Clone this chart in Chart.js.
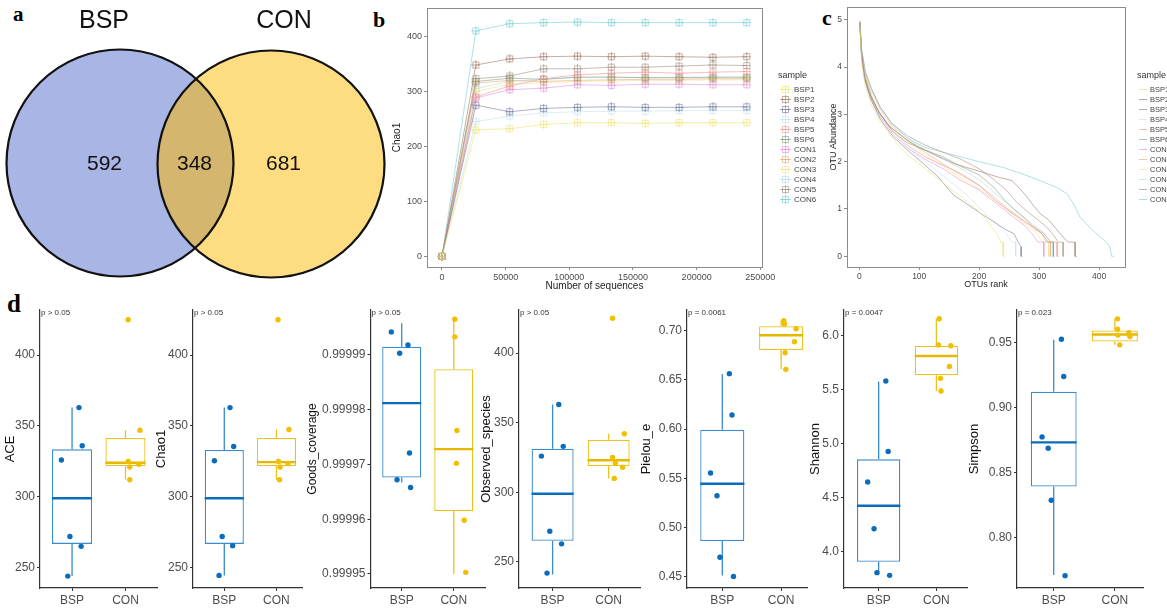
<!DOCTYPE html>
<html>
<head>
<meta charset="utf-8">
<script src="https://cdn.jsdelivr.net/npm/chart.js@4.4.1/dist/chart.umd.min.js"></script>
<style>
    html, body { margin: 0; padding: 0; background: #fff; }
    body { width: 1167px; height: 609px; position: relative; overflow: hidden; font-family: Arial, "Liberation Sans", sans-serif; }
    canvas { position: absolute; }
    .tag { position: absolute; font-family: "Liberation Serif", "Times New Roman", serif; font-weight: bold; color: #000; line-height: 1; }
</style>
</head>
<body>
<div class="tag" style="left:13px; top:4px; font-size:21px;">a</div>
<div class="tag" style="left:373px; top:9px; font-size:22px;">b</div>
<div class="tag" style="left:822px; top:7px; font-size:22px;">c</div>
<div class="tag" style="left:7px; top:291px; font-size:25px;">d</div>

<script>
// ---------- datos del panel a (Venn)
const vennSets = ["BSP", "CON"];
const vennCounts = [592, 348, 681]; // solo BSP, compartidos, solo CON

// ---------- panel b: curvas de rarefacción (Chao1)
const sampleNames = ["BSP1", "BSP2", "BSP3", "BSP4", "BSP5", "BSP6", "CON1", "CON2", "CON3", "CON4", "CON5", "CON6"];
const seqDepth = [0, 26600, 53200, 79800, 106400, 133000, 159600, 186200, 212800, 239400];
const depthTicks = [0, 50000, 100000, 150000, 200000, 250000];
const chaoTicksB = [0, 100, 200, 300, 400];

const rareBSP1 = [0, 230, 232, 240, 243, 243, 242, 243, 243, 243];
const rareBSP2 = [0, 348, 359, 363, 364, 363, 364, 363, 362, 363];
const rareBSP3 = [0, 275, 263, 269, 271, 272, 271, 271, 272, 272];
const rareBSP4 = [0, 245, 255, 261, 263, 264, 264, 265, 265, 265];
const rareBSP5 = [0, 290, 310, 323, 330, 333, 335, 333, 335, 336];
const rareBSP6 = [0, 318, 324, 322, 326, 326, 325, 325, 326, 326];
const rareCON1 = [0, 288, 303, 306, 312, 311, 313, 313, 312, 312];
const rareCON2 = [0, 315, 320, 318, 320, 321, 322, 322, 323, 323];
const rareCON3 = [0, 300, 313, 316, 318, 319, 320, 320, 321, 321];
const rareCON4 = [0, 305, 318, 322, 325, 325, 325, 325, 325, 325];
const rareCON5 = [0, 323, 328, 341, 341, 344, 344, 346, 348, 347];
const rareCON6 = [0, 410, 423, 425, 426, 425, 425, 425, 425, 425];

// ---------- panel c: rango-abundancia [rango, log10 abundancia]
const rankTicks = [0, 100, 200, 300, 400];
const abundTicks = [0, 1, 2, 3, 4, 5];
const rankBSP1 = [[1,4.9],[4,4.1],[10,3.6],[20,3.2],[35,2.85],[55,2.5],[80,2.15],[110,1.85],[140,1.55],[170,1.25],[195,1.0],[212,0.78],[222,0.6],[230,0.48],[236,0.3],[240,0.3],[240,0],[242,0]];
const rankBSP2 = [[1,4.95],[3,4.4],[8,3.8],[15,3.5],[30,3.1],[50,2.75],[75,2.5],[100,2.3],[130,2.12],[160,1.95],[200,1.8],[230,1.68],[255,1.6],[270,1.4],[280,1.25],[292,1.05],[302,0.9],[315,0.78],[324,0.65],[335,0.48],[348,0.3],[360,0.3],[360,0],[363,0]];
const rankBSP3 = [[1,4.9],[4,4.2],[10,3.7],[20,3.3],[35,2.9],[55,2.55],[80,2.25],[105,1.98],[130,1.7],[157,1.3],[180,1.1],[207,0.87],[228,0.7],[246,0.55],[258,0.48],[265,0.3],[270,0.2],[270,0],[272,0]];
const rankBSP4 = [[1,4.85],[4,4.2],[10,3.7],[20,3.3],[35,2.95],[55,2.6],[80,2.3],[110,2.0],[140,1.7],[170,1.4],[195,1.1],[215,0.85],[232,0.65],[245,0.48],[255,0.3],[261,0.3],[261,0],[263,0]];
const rankBSP5 = [[1,4.9],[4,4.2],[10,3.75],[20,3.35],[35,3.0],[55,2.65],[80,2.35],[110,2.1],[140,1.92],[170,1.75],[200,1.5],[225,1.2],[245,1.0],[262,0.85],[280,0.7],[295,0.6],[308,0.48],[320,0.3],[330,0.3],[330,0],[333,0]];
const rankBSP6 = [[1,4.95],[4,4.3],[10,3.8],[20,3.4],[35,3.0],[55,2.65],[80,2.4],[110,2.25],[140,2.1],[170,1.9],[200,1.72],[225,1.45],[245,1.15],[262,0.95],[278,0.78],[292,0.6],[305,0.48],[315,0.3],[324,0.3],[324,0],[326,0]];
const rankCON1 = [[1,4.9],[4,4.2],[10,3.7],[20,3.3],[35,2.95],[55,2.6],[80,2.3],[110,2.05],[140,1.85],[170,1.6],[200,1.4],[225,1.15],[245,0.95],[262,0.78],[276,0.65],[288,0.48],[298,0.3],[308,0.3],[308,0],[310,0]];
const rankCON2 = [[1,4.95],[4,4.25],[10,3.75],[20,3.35],[35,3.0],[55,2.7],[80,2.45],[110,2.2],[140,1.95],[170,1.72],[200,1.5],[225,1.25],[248,1.0],[265,0.85],[280,0.7],[295,0.55],[305,0.48],[312,0.3],[319,0.3],[319,0],[321,0]];
const rankCON3 = [[1,4.9],[4,4.3],[10,3.85],[20,3.5],[35,3.1],[55,2.75],[80,2.45],[110,2.15],[140,1.9],[170,1.65],[200,1.42],[225,1.2],[248,0.98],[265,0.8],[280,0.65],[295,0.5],[305,0.3],[316,0.3],[316,0],[318,0]];
const rankCON4 = [[1,4.95],[4,4.3],[10,3.85],[20,3.5],[35,3.1],[55,2.75],[80,2.5],[110,2.25],[140,2.05],[170,1.85],[200,1.62],[225,1.35],[248,1.1],[268,0.9],[285,0.72],[300,0.58],[310,0.48],[318,0.3],[323,0.3],[323,0],[325,0]];
const rankCON5 = [[1,4.95],[4,4.35],[10,3.9],[20,3.55],[35,3.15],[55,2.8],[80,2.55],[110,2.35],[140,2.2],[170,2.05],[200,1.85],[225,1.62],[245,1.4],[262,1.15],[280,0.95],[295,0.8],[310,0.65],[322,0.48],[332,0.3],[340,0.3],[340,0],[342,0]];
const rankCON6 = [[1,5.0],[4,4.4],[10,3.9],[20,3.55],[35,3.15],[55,2.8],[80,2.5],[110,2.3],[140,2.2],[170,2.1],[200,2.0],[240,1.88],[270,1.75],[302,1.6],[330,1.45],[346,1.33],[358,1.1],[368,0.83],[385,0.6],[402,0.41],[412,0.3],[418,0.2],[421,0],[425,0]];

// ---------- panel d: diversidad alfa
const groups = ["BSP", "CON"];
const metricTitles = ["ACE", "Chao1", "Goods_coverage", "Observed_species", "Pielou_e", "Shannon", "Simpson"];
const pLabels = ["p > 0.05", "p > 0.05", "p > 0.05", "p > 0.05", "p = 0.0061", "p = 0.0047", "p = 0.023"];

const aceBSP = [363, 336, 326, 272, 265, 244];
const aceCON = [425, 347, 325, 323, 321, 312];
const aceBox = [[244, 266.75, 299, 333.5, 363], [312, 321.5, 324, 341.5, 347]];
const aceTicks = [250, 300, 350, 400];

const chaoBSP = [363, 335.5, 325.5, 272, 265.5, 244.5];
const chaoCON = [425, 347.5, 325, 323.5, 321, 312];
const chaoBox = [[244.5, 266.75, 299, 333, 363], [312, 321.5, 324.5, 341.5, 347.5]];
const chaoTicks = [250, 300, 350, 400];

const goodsBSP = [0.9999942, 0.9999918, 0.9999903, 0.9999721, 0.9999672, 0.9999658];
const goodsCON = [0.9999965, 0.9999933, 0.9999762, 0.9999702, 0.9999598, 0.9999503];
const goodsBox = [[0.9999667, 0.9999676, 0.9999812, 0.9999915, 0.9999958], [0.99995, 0.9999615, 0.9999728, 0.9999874, 0.9999965]];
const goodsTicks = [0.99995, 0.99996, 0.99997, 0.99998, 0.99999];

const obsBSP = [363, 333, 326, 272, 263, 242];
const obsCON = [425, 342, 325, 321, 318, 310];
const obsBox = [[241, 265.25, 299, 331.25, 363], [310, 318.75, 323, 337.75, 342]];
const obsTicks = [250, 300, 350, 400];

const pielouBSP = [0.6563, 0.6143, 0.5553, 0.5323, 0.4697, 0.4503];
const pielouCON = [0.7102, 0.7068, 0.702, 0.6888, 0.6776, 0.6607];
const pielouBox = [[0.4513, 0.4862, 0.5445, 0.5994, 0.656], [0.6607, 0.6804, 0.6954, 0.7045, 0.7102]];
const pielouTicks = [0.45, 0.50, 0.55, 0.60, 0.65, 0.70];

const shannonBSP = [5.58, 4.929, 4.645, 4.213, 3.806, 3.781];
const shannonCON = [6.157, 5.914, 5.907, 5.716, 5.605, 5.488];
const shannonBox = [[3.79, 3.907, 4.426, 4.855, 5.575], [5.488, 5.633, 5.812, 5.907, 6.157]];
const shannonTicks = [4.0, 4.5, 5.0, 5.5, 6.0];

const simpsonBSP = [0.9523, 0.9236, 0.8772, 0.8685, 0.8285, 0.7705];
const simpsonCON = [0.968, 0.96, 0.9574, 0.9544, 0.9555, 0.948];
const simpsonBox = [[0.771, 0.839, 0.873, 0.912, 0.952], [0.948, 0.9505, 0.956, 0.959, 0.968]];
const simpsonTicks = [0.80, 0.85, 0.90, 0.95];

// desplazamiento horizontal (jitter) de los puntos, en unidades de categoría
const jitterACE = [[0.13, 0.19, -0.2, -0.04, 0.17, -0.08], [0.05, 0.27, 0.05, 0.25, 0.08, 0.08]];
const jitterChao = [[0.11, 0.18, -0.19, -0.04, 0.16, -0.1], [0.03, 0.24, 0.04, 0.22, 0.07, 0.06]];
const jitterGoods = [[-0.2, 0.12, -0.04, 0.15, -0.09, 0.17], [0.02, 0.02, 0.06, 0.05, 0.2, 0.23]];
const jitterObs = [[0.11, 0.19, -0.2, -0.05, 0.16, -0.1], [0.07, 0.28, 0.07, 0.12, 0.25, 0.1]];
const jitterPielou = [[0.12, 0.165, -0.2, -0.09, -0.04, 0.19], [0.045, 0.057, 0.255, 0.227, 0.068, 0.08]];
const jitterShannon = [[0.124, 0.165, -0.19, -0.08, -0.03, 0.19], [0.05, 0.035, 0.25, 0.225, 0.07, 0.08]];
const jitterSimpson = [[0.126, 0.164, -0.19, -0.09, -0.04, 0.186], [0.044, 0.044, 0.23, 0.246, 0.05, 0.08]];

// ---------- estilos
const FONT = 'Arial, "Liberation Sans", sans-serif';
Chart.defaults.font.family = FONT;

const sampleRGB = [
    [236, 228, 110], [160, 122, 104], [120, 124, 160], [196, 226, 238],
    [238, 150, 146], [138, 158, 132], [226, 146, 222], [230, 172, 116],
    [244, 224, 140], [180, 218, 236], [164, 144, 132], [118, 206, 210]
];
const rgba = (c, a) => `rgba(${c[0]}, ${c[1]}, ${c[2]}, ${a})`;
const sampleColors = sampleRGB.map(c => rgba(c, 0.6));
const rankColors = sampleRGB.map(c => rgba(c, 0.65));
const boxLine = ["#3a8bcf", "#ecc21c"];
const medianLine = ["#0a6cba", "#e6b800"];
const dotColor = ["#0a6cba", "#efbf00"];

function addCanvas(left, top, w, h) {
    const c = document.createElement("canvas");
    c.width = w;
    c.height = h;
    c.style.left = left + "px";
    c.style.top = top + "px";
    c.style.width = w + "px";
    c.style.height = h + "px";
    document.body.appendChild(c);
    return c;
}

const baseOptions = () => ({
    responsive: false,
    animation: false,
    devicePixelRatio: 1,
    events: [],
    plugins: { legend: { display: false }, tooltip: { enabled: false } }
});

// ---------- a: Venn
const vennPlugin = {
    id: "venn",
    afterDraw(chart) {
        const ctx = chart.ctx;
        const xs = chart.scales.x, ys = chart.scales.y;
        const r = xs.getPixelForValue(113.5) - xs.getPixelForValue(0);
        const A = { x: xs.getPixelForValue(120), y: ys.getPixelForValue(163) };
        const B = { x: xs.getPixelForValue(271), y: ys.getPixelForValue(164) };
        const circle = c => { ctx.beginPath(); ctx.arc(c.x, c.y, r, 0, Math.PI * 2); };

        ctx.save();
        circle(A); ctx.fillStyle = "#a8b5e5"; ctx.fill();
        circle(B); ctx.fillStyle = "#fedc82"; ctx.fill();
        ctx.save();
        circle(A); ctx.clip();
        circle(B); ctx.fillStyle = "#d4b66f"; ctx.fill();
        ctx.restore();
        ctx.lineWidth = 2.2;
        ctx.strokeStyle = "#111";
        circle(A); ctx.stroke();
        circle(B); ctx.stroke();

        ctx.fillStyle = "#111";
        ctx.textAlign = "center";
        ctx.textBaseline = "alphabetic";
        ctx.font = "25px " + FONT;
        ctx.fillText(vennSets[0], xs.getPixelForValue(104), ys.getPixelForValue(28));
        ctx.fillText(vennSets[1], xs.getPixelForValue(284), ys.getPixelForValue(28));
        ctx.font = "21px " + FONT;
        const cx = [104.5, 194.5, 283.5];
        vennCounts.forEach((n, i) => ctx.fillText(String(n), xs.getPixelForValue(cx[i]), ys.getPixelForValue(170)));
        ctx.restore();
    }
};

new Chart(addCanvas(0, 0, 392, 290), {
    type: "scatter",
    data: { datasets: [] },
    options: Object.assign(baseOptions(), {
        layout: { padding: 0 },
        scales: {
            x: { type: "linear", min: 0, max: 392, display: false },
            y: { type: "linear", min: 0, max: 290, reverse: true, display: false }
        }
    }),
    plugins: [vennPlugin]
});

// marco gris alrededor del área de trazado
const framePlugin = color => ({
    id: "frame",
    beforeDatasetsDraw(chart) {
        const a = chart.chartArea, ctx = chart.ctx;
        ctx.save();
        ctx.strokeStyle = color;
        ctx.lineWidth = 1;
        ctx.strokeRect(Math.round(a.left) + 0.5, Math.round(a.top) + 0.5, Math.round(a.right - a.left), Math.round(a.bottom - a.top));
        ctx.restore();
    }
});

function markerFor(color) {
    const c = document.createElement("canvas");
    c.width = 9; c.height = 9;
    const g = c.getContext("2d");
    g.strokeStyle = color;
    g.lineWidth = 1;
    g.strokeRect(1.5, 1.5, 6, 6);
    g.beginPath();
    g.moveTo(4.5, 0); g.lineTo(4.5, 9);
    g.moveTo(0, 4.5); g.lineTo(9, 4.5);
    g.stroke();
    return c;
}
const markers = sampleColors.map(markerFor);

function legendPlugin(originX, titleX, lineX0, lineX1, textX, withMarker, fontSize) {
    return {
        id: "sampleLegend",
        afterDraw(chart) {
            const ctx = chart.ctx;
            ctx.save();
            ctx.textBaseline = "middle";
            ctx.textAlign = "left";
            ctx.fillStyle = "#333";
            ctx.font = "9px " + FONT;
            ctx.fillText("sample", titleX - originX, 76);
            ctx.font = fontSize + "px " + FONT;
            chart.data.datasets.forEach((ds, i) => {
                const y = 89.5 + i * 10;
                ctx.strokeStyle = ds.borderColor;
                ctx.lineWidth = 1;
                ctx.beginPath();
                ctx.moveTo(lineX0 - originX, y);
                ctx.lineTo(lineX1 - originX, y);
                ctx.stroke();
                if (withMarker) ctx.drawImage(markers[i], (lineX0 + lineX1) / 2 - originX - 4.5, y - 4.5);
                ctx.fillStyle = "#444";
                ctx.fillText(ds.label, textX - originX, y);
            });
            ctx.restore();
        }
    };
}

function axisStyle(ticks, fmt, fontSize) {
    return {
        afterBuildTicks: s => { s.ticks = ticks.map(v => ({ value: v })); },
        ticks: { callback: fmt, font: { size: fontSize }, color: "#4d4d4d", padding: 2, maxRotation: 0, autoSkip: false },
        grid: { display: true, drawOnChartArea: false, drawTicks: true, tickLength: 3, color: "#8c8c8c", offset: false },
        border: { display: false }
    };
}

// ---------- b: rarefacción
const rareSeries = [rareBSP1, rareBSP2, rareBSP3, rareBSP4, rareBSP5, rareBSP6, rareCON1, rareCON2, rareCON3, rareCON4, rareCON5, rareCON6];
const bLeft = 385;
new Chart(addCanvas(bLeft, 0, 445, 300), {
    type: "scatter",
    data: {
        datasets: sampleNames.map((name, i) => ({
            label: name,
            data: seqDepth.map((x, j) => ({ x: x, y: rareSeries[i][j] })),
            showLine: true,
            borderColor: sampleColors[i],
            backgroundColor: sampleColors[i],
            borderWidth: 1,
            pointStyle: markers[i],
            pointRadius: 4
        }))
    },
    options: Object.assign(baseOptions(), {
        layout: { padding: { top: 8, right: 68, left: 0, bottom: 0 } },
        scales: {
            x: Object.assign(axisStyle(depthTicks, v => String(v), 9), {
                type: "linear", min: -11780, max: 251335,
                afterFit: s => { s.height = 33; },
                title: { display: true, text: "Number of sequences", font: { size: 10 }, color: "#222", padding: { top: 0, bottom: 8 } }
            }),
            y: Object.assign(axisStyle(chaoTicksB, v => String(v), 9), {
                type: "linear", min: -19.3, max: 451.6,
                afterFit: s => { s.width = 42; },
                title: { display: true, text: "Chao1", font: { size: 10 }, color: "#222", padding: { top: 6, bottom: 0 } }
            })
        }
    }),
    plugins: [framePlugin("#8c8c8c"), legendPlugin(bLeft, 778, 780, 791, 794, true, 8)]
});

// ---------- c: rango-abundancia
const rankSeries = [rankBSP1, rankBSP2, rankBSP3, rankBSP4, rankBSP5, rankBSP6, rankCON1, rankCON2, rankCON3, rankCON4, rankCON5, rankCON6];
const cLeft = 820;
new Chart(addCanvas(cLeft, 0, 347, 300), {
    type: "scatter",
    data: {
        datasets: sampleNames.map((name, i) => ({
            label: name,
            data: rankSeries[i].map(p => ({ x: p[0], y: p[1] })),
            showLine: true,
            borderColor: rankColors[i],
            borderWidth: 0.9,
            pointRadius: 0
        }))
    },
    options: Object.assign(baseOptions(), {
        layout: { padding: { top: 7, right: 42, left: 0, bottom: 0 } },
        scales: {
            x: Object.assign(axisStyle(rankTicks, v => String(v), 8.5), {
                type: "linear", min: -20.5, max: 443.3,
                afterFit: s => { s.height = 33; },
                title: { display: true, text: "OTUs rank", font: { size: 9 }, color: "#222", padding: { top: 0, bottom: 10 } }
            }),
            y: Object.assign(axisStyle(abundTicks, v => String(v), 8.5), {
                type: "linear", min: -0.227, max: 5.27,
                afterFit: s => { s.width = 27; },
                title: { display: true, text: "OTU Abundance", font: { size: 9 }, color: "#222", padding: { top: 8, bottom: 0 } }
            })
        }
    }),
    plugins: [framePlugin("#8c8c8c"), legendPlugin(cLeft, 1137, 1139, 1147, 1150, false, 7.5)]
});

// ---------- d: diagramas de caja
const boxPanels = [
    { bsp: aceBSP, con: aceCON, box: aceBox, ticks: aceTicks, jit: jitterACE, yMin: 235.6, yMax: 431.9, fmt: v => String(v) },
    { bsp: chaoBSP, con: chaoCON, box: chaoBox, ticks: chaoTicks, jit: jitterChao, yMin: 235.6, yMax: 431.9, fmt: v => String(v) },
    { bsp: goodsBSP, con: goodsCON, box: goodsBox, ticks: goodsTicks, jit: jitterGoods, yMin: 0.99994744, yMax: 0.9999982, fmt: v => v.toFixed(5) },
    { bsp: obsBSP, con: obsCON, box: obsBox, ticks: obsTicks, jit: jitterObs, yMin: 231.3, yMax: 430.9, fmt: v => String(v) },
    { bsp: pielouBSP, con: pielouCON, box: pielouBox, ticks: pielouTicks, jit: jitterPielou, yMin: 0.4385, yMax: 0.721, fmt: v => v.toFixed(2) },
    { bsp: shannonBSP, con: shannonCON, box: shannonBox, ticks: shannonTicks, jit: jitterShannon, yMin: 3.664, yMax: 6.238, fmt: v => v.toFixed(1) },
    { bsp: simpsonBSP, con: simpsonCON, box: simpsonBox, ticks: simpsonTicks, jit: jitterSimpson, yMin: 0.761, yMax: 0.9748, fmt: v => v.toFixed(2) }
];

// posición de cada panel en la figura
const boxLayout = [
    { titleX: 11, plotL: 40, plotR: 157, xMax: 2.59, titleSize: 13 },
    { titleX: 162, plotL: 193, plotR: 302, xMax: 2.49, titleSize: 13 },
    { titleX: 312, plotL: 370.5, plotR: 485, xMax: 2.6, titleSize: 12 },
    { titleX: 487, plotL: 519, plotR: 640, xMax: 2.56, titleSize: 13 },
    { titleX: 647, plotL: 687, plotR: 807, xMax: 2.44, titleSize: 13 },
    { titleX: 816, plotL: 844, plotR: 967, xMax: 2.53, titleSize: 13 },
    { titleX: 975, plotL: 1017, plotR: 1143, xMax: 2.46, titleSize: 13 }
];

function boxExtras(cfg, pLabel) {
    return {
        id: "boxExtras",
        afterDatasetDraw(chart, args) {
            if (args.index !== 0) return;
            const ctx = chart.ctx, xs = chart.scales.x, ys = chart.scales.y;
            cfg.box.forEach((b, i) => {
                const cx = xs.getPixelForValue(i + 1);
                const hw = xs.getPixelForValue(i + 1.375) - cx;
                ctx.save();
                ctx.strokeStyle = boxLine[i];
                ctx.lineWidth = 1.3;
                ctx.beginPath();
                ctx.moveTo(cx, ys.getPixelForValue(b[0]));
                ctx.lineTo(cx, ys.getPixelForValue(b[1]));
                ctx.moveTo(cx, ys.getPixelForValue(b[3]));
                ctx.lineTo(cx, ys.getPixelForValue(b[4]));
                ctx.stroke();
                ctx.strokeStyle = medianLine[i];
                ctx.lineWidth = 2.4;
                ctx.beginPath();
                const ym = ys.getPixelForValue(b[2]);
                ctx.moveTo(cx - hw, ym);
                ctx.lineTo(cx + hw, ym);
                ctx.stroke();
                ctx.restore();
            });
        },
        afterDraw(chart) {
            const ctx = chart.ctx, a = chart.chartArea;
            ctx.save();
            ctx.font = "8px " + FONT;
            ctx.fillStyle = "#333";
            ctx.textBaseline = "middle";
            ctx.textAlign = "left";
            ctx.fillText(pLabel, a.left + 1, a.top + 3);
            ctx.restore();
        }
    };
}

boxPanels.forEach((cfg, k) => {
    const L = boxLayout[k];
    const left = Math.round(L.titleX - (L.titleSize * 1.2 / 2 + 2));
    const width = Math.round(L.plotR + 6 - left);
    const yW = L.plotL - left;
    const dots = (vals, g) => vals.map((v, i) => ({ x: g + 1 + cfg.jit[g][i], y: v }));

    new Chart(addCanvas(left, 300, width, 309), {
        type: "bar",
        data: {
            datasets: [
                {
                    type: "bar", order: 2,
                    data: cfg.box.map((b, i) => ({ x: i + 1, y: [b[1], b[3]] })),
                    backgroundColor: "#ffffff",
                    borderColor: boxLine,
                    borderWidth: 1.3,
                    borderSkipped: false,
                    categoryPercentage: 1,
                    barPercentage: 0.75
                },
                { type: "scatter", order: 1, data: dots(cfg.bsp, 0), backgroundColor: dotColor[0], borderWidth: 0, pointRadius: 2.7 },
                { type: "scatter", order: 1, data: dots(cfg.con, 1), backgroundColor: dotColor[1], borderWidth: 0, pointRadius: 2.7 }
            ]
        },
        options: Object.assign(baseOptions(), {
            layout: { padding: { top: 10, right: 6, left: 0, bottom: 0 } },
            scales: {
                x: {
                    type: "linear", min: 0.4, max: L.xMax, offset: false,
                    afterBuildTicks: s => { s.ticks = [{ value: 1 }, { value: 2 }]; },
                    afterFit: s => { s.height = 21; },
                    ticks: { callback: v => groups[v - 1], font: { size: 12 }, color: "#4d4d4d", padding: 2, maxRotation: 0, autoSkip: false },
                    grid: { display: true, drawOnChartArea: false, drawTicks: true, tickLength: 3, color: "#333", offset: false },
                    border: { display: true, color: "#333", width: 1.2 }
                },
                y: {
                    type: "linear", min: cfg.yMin, max: cfg.yMax, beginAtZero: false,
                    afterBuildTicks: s => { s.ticks = cfg.ticks.map(v => ({ value: v })); },
                    afterFit: s => { s.width = yW; },
                    ticks: { callback: cfg.fmt, font: { size: 12 }, color: "#4d4d4d", padding: 2, autoSkip: false },
                    grid: { display: true, drawOnChartArea: false, drawTicks: true, tickLength: 3, color: "#333" },
                    border: { display: true, color: "#333", width: 1.2 },
                    title: { display: true, text: metricTitles[k], font: { size: L.titleSize }, color: "#111", padding: { top: 2, bottom: 0 } }
                }
            }
        }),
        plugins: [boxExtras(cfg, pLabels[k])]
    });
});
</script>
</body>
</html>
